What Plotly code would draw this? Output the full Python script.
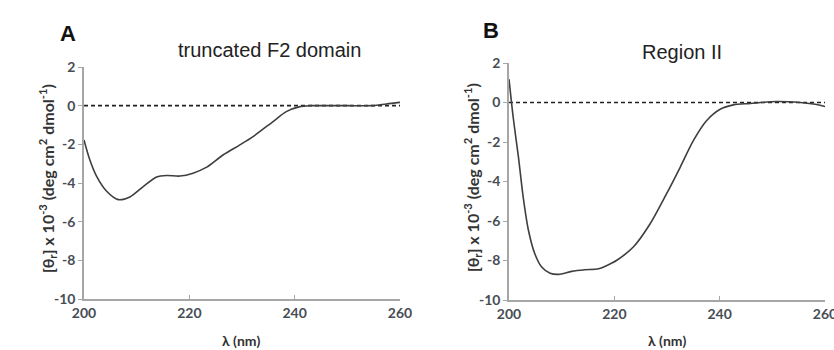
import plotly.graph_objects as go

# ---- data ----
wl_A = [200, 201.1, 202.4, 204.3, 206.5, 208.7, 211.3, 213.8, 215.7, 218.2, 220.7,
        223.3, 226.4, 229.6, 232.1, 235.9, 238.4, 241, 242.8, 246, 250, 254.9, 257.4, 260]
cd_A = [-1.77, -2.8, -3.66, -4.43, -4.86, -4.72, -4.17, -3.69, -3.61, -3.64, -3.49,
        -3.18, -2.55, -2.03, -1.6, -0.82, -0.31, -0.05, 0.0, 0.0, 0.0, 0.0, 0.09, 0.17]

wl_B = [200, 200.8, 201.8, 202.7, 203.7, 204.9, 206.2, 207.8, 209.4, 211.9, 214.4, 217,
        219.5, 220.4, 223.6, 226.8, 229.9, 232.5, 235, 237.5, 240.1, 242.6, 245.8,
        250.8, 255.3, 257.8, 260]
cd_B = [1.18, -0.76, -2.78, -4.8, -6.48, -7.66, -8.33, -8.64, -8.7, -8.55, -8.47, -8.42,
        -8.13, -8.0, -7.32, -6.14, -4.63, -3.28, -1.93, -0.92, -0.34, -0.12, -0.05,
        0.05, 0.0, -0.08, -0.2]

baseline_x = [200, 260]
baseline_y = [0, 0]

x_ticks = [200, 220, 240, 260]
x_ticklabels = ["200", "220", "240", "260"]
y_ticks = [2, 0, -2, -4, -6, -8, -10]
y_ticklabels = ["2", "0", "-2", "-4", "-6", "-8", "-10"]

panel_letters = ["A", "B"]
panel_titles = ["truncated F2 domain", "Region II"]
x_title = "λ (nm)"
y_title = "[θ<sub>r</sub>] x 10<sup>-3</sup> (deg cm<sup>2</sup> dmol<sup>-1</sup>)"

CURVE = "#3f3f3f"
AXIS = "#a6a6a6"
TICKTXT = "#474d55"
TICKFONT = dict(family="Lato", size=14, color=TICKTXT, weight="bold")

fig = go.Figure()
for i, (wx, wy) in enumerate([(wl_A, cd_A), (wl_B, cd_B)]):
    xa = "x" if i == 0 else "x2"
    ya = "y" if i == 0 else "y2"
    fig.add_trace(go.Scatter(x=baseline_x, y=baseline_y, mode="lines", xaxis=xa, yaxis=ya,
                             line=dict(color="#222222", width=1.6, dash="4px,3px"),
                             showlegend=False, hoverinfo="skip"))
    fig.add_trace(go.Scatter(x=wx, y=wy, mode="lines", xaxis=xa, yaxis=ya,
                             line=dict(color=CURVE, width=1.6, shape="spline", smoothing=0.8),
                             showlegend=False))

axis_common = dict(showgrid=False, zeroline=False, showline=True, linecolor=AXIS,
                   linewidth=1.5, tickcolor=AXIS, tickwidth=1.2, tickfont=TICKFONT,
                   automargin=False, ticklabeloverflow="allow")

fig.update_layout(
    width=834, height=350, margin=dict(l=0, r=0, t=0, b=0),
    paper_bgcolor="white", plot_bgcolor="white",
    xaxis=dict(domain=[84/834, 400/834], range=[200, 260], tickvals=x_ticks,
               ticktext=x_ticklabels, ticks="inside", ticklen=4, anchor="y", **axis_common),
    yaxis=dict(domain=[1-299/350, 1-67/350], range=[-10, 2], tickvals=y_ticks,
               ticktext=y_ticklabels, ticks="outside", ticklen=4, anchor="x", **axis_common),
    xaxis2=dict(domain=[509/834, 825/834], range=[200, 260], tickvals=x_ticks,
                ticktext=x_ticklabels, ticks="inside", ticklen=4, anchor="y2", **axis_common),
    yaxis2=dict(domain=[1-300/350, 1-63/350], range=[-10, 2], tickvals=y_ticks,
                ticktext=y_ticklabels, ticks="outside", ticklen=4, anchor="x2", **axis_common),
)

annos = []
letter_pos = [(68, 33), (491, 30)]
title_pos = [(269, 50), (682, 52)]
xtitle_pos = [(242, 340), (667, 340)]
ytitle_pos = [(47, 179), (472, 178)]
for i in range(2):
    annos.append(dict(text=panel_letters[i], x=letter_pos[i][0]/834,
                      y=1-letter_pos[i][1]/350, xref="paper", yref="paper", showarrow=False,
                      font=dict(family="Liberation Sans", size=22, color="#111111", weight="bold"),
                      xanchor="center", yanchor="middle"))
    annos.append(dict(text=panel_titles[i], x=title_pos[i][0]/834, y=1-title_pos[i][1]/350,
                      xref="paper", yref="paper", showarrow=False,
                      font=dict(family="Liberation Sans", size=20, color="#222222"),
                      xanchor="center", yanchor="middle"))
    annos.append(dict(text=x_title, x=xtitle_pos[i][0]/834, y=1-xtitle_pos[i][1]/350,
                      xref="paper", yref="paper", showarrow=False,
                      font=dict(family="Lato", size=14, color="#333333", weight="bold"),
                      xanchor="center", yanchor="middle"))
    annos.append(dict(text=y_title, x=ytitle_pos[i][0]/834, y=1-ytitle_pos[i][1]/350,
                      xref="paper", yref="paper", showarrow=False, textangle=-90,
                      font=dict(family="Lato", size=16, color="#333333", weight="bold"),
                      xanchor="center", yanchor="middle"))
fig.update_layout(annotations=annos)

fig.write_html("out.html", config={"displayModeBar": False},
               post_script="document.body.style.margin='0px';document.body.style.overflow='hidden';")
